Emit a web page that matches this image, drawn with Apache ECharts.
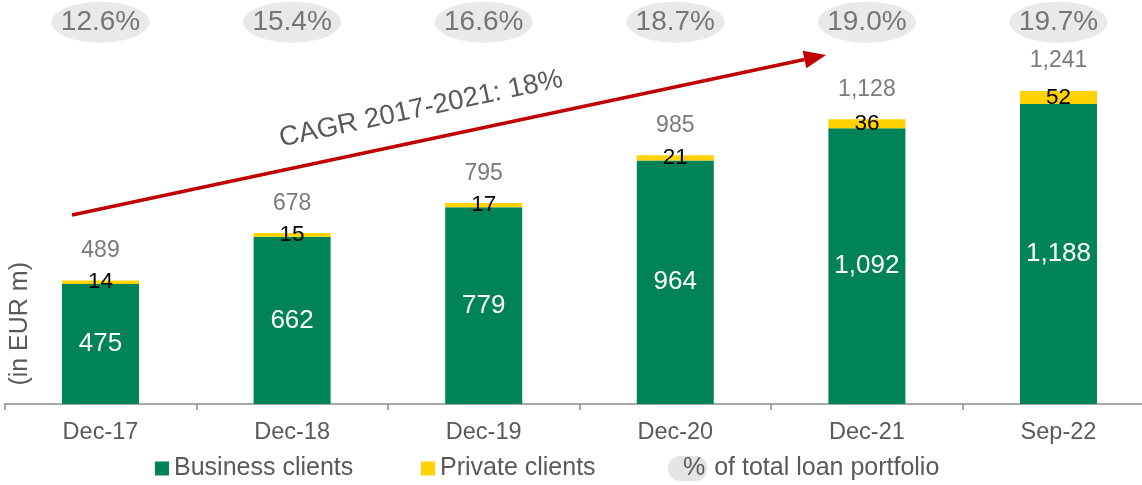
<!DOCTYPE html>
<html>
<head>
<meta charset="utf-8">
<script src="https://cdn.jsdelivr.net/npm/echarts@6/dist/echarts.min.js"></script>
<style>
html,body{margin:0;padding:0;background:#fff;}
#chart{width:1142px;height:485px;}
</style>
</head>
<body>
<div id="chart"></div>
<script>
// Loan book by client type, EUR m
var categories = ['Dec-17', 'Dec-18', 'Dec-19', 'Dec-20', 'Dec-21', 'Sep-22'];
var businessClients = [475, 662, 779, 964, 1092, 1188];
var privateClients = [14, 15, 17, 21, 36, 52];
var totals = [489, 678, 795, 985, 1128, 1241];
var shareOfPortfolio = ['12.6%', '15.4%', '16.6%', '18.7%', '19.0%', '19.7%'];

var GREEN = '#008457';
var YELLOW = '#ffd200';
var GREY_TEXT = '#595959';
var PILL = '#e4e4e4';
var RED = '#c00000';
var FONT = '"Liberation Sans", Arial, sans-serif';
var PILL_LEVEL = 1512; // height on the value axis where the share pills sit
var SHARE_NAME = '% of total loan portfolio';

function fmt(v) { return v.toLocaleString('en-US'); }

var chart = echarts.init(document.getElementById('chart'), null, { renderer: 'canvas' });

// arrow geometry for the CAGR annotation
var ax0 = 72, ay0 = 215, ax1 = 826, ay1 = 55;
var ang = Math.atan2(ay1 - ay0, ax1 - ax0);
var headLen = 22, headHalf = 9;
var bx = ax1 - headLen * Math.cos(ang), by = ay1 - headLen * Math.sin(ang);
var nx = -Math.sin(ang), ny = Math.cos(ang);

var legendText = {
  fontSize: 25, color: GREY_TEXT, fontFamily: FONT,
  rich: {
    p: { fontSize: 25, color: GREY_TEXT, fontFamily: FONT, backgroundColor: PILL, borderRadius: 12, padding: [0, 2, 0, 15] }
  }
};
function legendAt(left, item) {
  return {
    left: left,
    bottom: 4,
    padding: 0,
    itemWidth: 14,
    itemHeight: 14,
    itemGap: 4,
    textStyle: legendText,
    formatter: function (name) {
      return name === SHARE_NAME ? '{p|%} of total loan portfolio' : name;
    },
    data: [item]
  };
}

var option = {
  animation: false,
  textStyle: { fontFamily: FONT },
  grid: { left: 4.7, width: 1149.6, top: 0, bottom: 81, containLabel: false, outerBoundsMode: 'none' },
  legend: [
    legendAt(155, { name: 'Business clients', icon: 'rect' }),
    legendAt(421, { name: 'Private clients', icon: 'rect' }),
    legendAt(649, { name: SHARE_NAME, icon: 'none' })
  ],
  xAxis: {
    type: 'category',
    data: categories,
    axisLine: { show: true, lineStyle: { color: '#8c8c8c', width: 1.5 } },
    axisTick: { show: true, length: 6, lineStyle: { color: '#8c8c8c', width: 1.5 } },
    axisLabel: { fontSize: 23.5, color: GREY_TEXT, margin: 17, fontFamily: FONT }
  },
  yAxis: {
    type: 'value',
    min: 0,
    max: 1600,
    show: false,
    splitLine: { show: false }
  },
  series: [
    {
      name: 'Business clients',
      type: 'bar',
      stack: 'loans',
      barWidth: 77,
      itemStyle: { color: GREEN },
      label: {
        show: true, position: 'inside', color: '#fff', fontSize: 26, fontFamily: FONT,
        formatter: function (p) { return fmt(p.value); }
      },
      data: businessClients
    },
    {
      name: 'Private clients',
      type: 'bar',
      stack: 'loans',
      barWidth: 77,
      itemStyle: { color: YELLOW },
      label: {
        show: true, position: 'inside', color: '#000', fontSize: 22.5, fontFamily: FONT,
        formatter: function (p) { return fmt(p.value); }
      },
      data: privateClients
    },
    {
      name: 'Total',
      type: 'scatter',
      symbolSize: 0,
      silent: true,
      label: {
        show: true, position: 'top', distance: 18, color: GREY_TEXT, fontSize: 23, fontFamily: FONT,
        formatter: function (p) { return fmt(p.value); }
      },
      data: totals,
      z: 5
    },
    {
      name: SHARE_NAME,
      type: 'scatter',
      symbol: 'circle',
      symbolSize: [98, 41],
      silent: true,
      itemStyle: { color: PILL },
      label: {
        show: true, position: 'inside', color: GREY_TEXT, fontSize: 28, fontFamily: FONT,
        formatter: function (p) { return shareOfPortfolio[p.dataIndex]; }
      },
      data: shareOfPortfolio.map(function () { return PILL_LEVEL; }),
      z: 5
    }
  ],
  graphic: [
    {
      type: 'text',
      x: 8, y: 262,
      rotation: Math.PI / 2,
      style: { text: '(in EUR m)', font: '25px ' + FONT, fill: GREY_TEXT, align: 'right', verticalAlign: 'top' }
    },
    {
      type: 'line',
      shape: { x1: ax0, y1: ay0, x2: bx, y2: by },
      style: { stroke: RED, lineWidth: 3.5 },
      z: 10
    },
    {
      type: 'polygon',
      shape: { points: [[ax1, ay1], [bx + nx * headHalf, by + ny * headHalf], [bx - nx * headHalf, by - ny * headHalf]] },
      style: { fill: RED },
      z: 10
    },
    {
      type: 'text',
      x: 421, y: 109,
      rotation: -ang,
      style: {
        text: 'CAGR 2017-2021: 18%',
        font: '27.5px ' + FONT,
        fill: GREY_TEXT,
        align: 'center',
        verticalAlign: 'middle'
      },
      z: 10
    }
  ]
};

chart.setOption(option);
</script>
</body>
</html>
